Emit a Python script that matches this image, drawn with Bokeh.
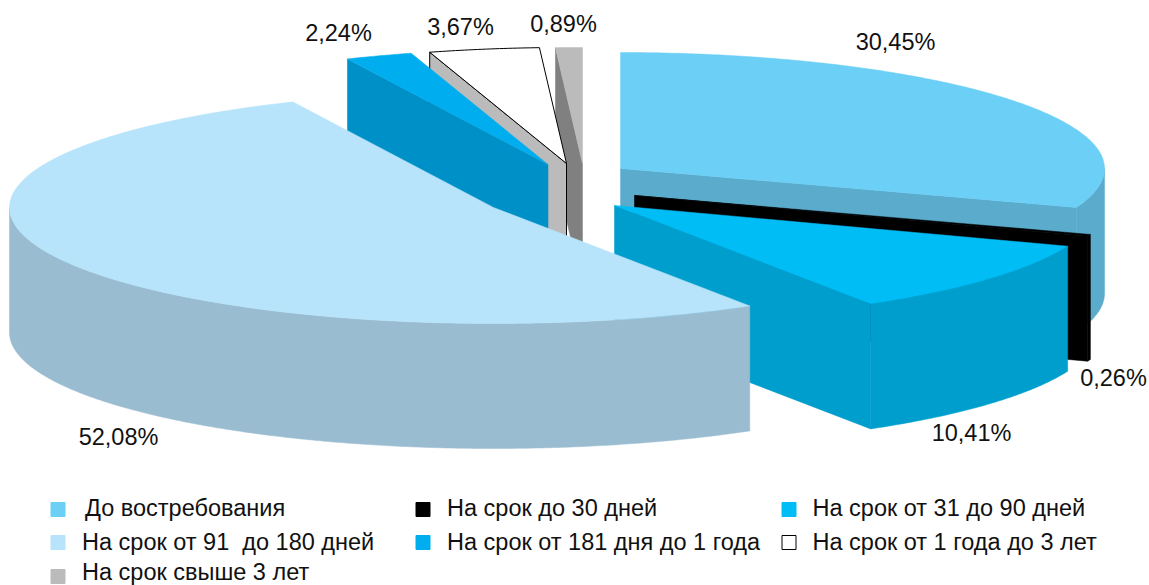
import numpy as np
from bokeh.plotting import figure
from bokeh.models import Range1d
from bokeh.core.properties import value
from bokeh.embed import file_html
from bokeh.resources import INLINE

categories = ["До востребования", "На срок до 30 дней", "На срок от 31 до 90 дней",
              "На срок от 91 \u00a0до 180 дней", "На срок от 181 дня до 1 года",
              "На срок от 1 года до 3 лет", "На срок свыше 3 лет"]
shares = [30.45, 0.26, 10.41, 52.08, 2.24, 3.67, 0.89]
share_labels = ["30,45%", "0,26%", "10,41%", "52,08%", "2,24%", "3,67%", "0,89%"]

top_colors = ["#6BCFF6", "#000000", "#00BDF5", "#B7E4FA", "#00AEEF", "#FFFFFF", "#BBBBBB"]
side_colors = ["#5AABCC", "#000000", "#009ECC", "#9ABCD0", "#0090C8", "#BBBBBB", "#808080"]

# Layout of the exploded tilted pie, in page pixels
apex = [(620, 168), (634, 195), (614, 205), (493, 207), (547.5, 164), (566, 163), (582, 163)]
RX, RY, DEPTH = 484, 116, 125
draw_order = [0, 6, 5, 4, 1, 2, 3]
label_pos = [(895, 41), (1113, 377), (971, 432), (118, 436), (338, 32), (460, 26), (563, 23)]
legend_sq = [(57.5, 509), (422.5, 509), (788.5, 509), (57.5, 542), (422.5, 542), (788.5, 542), (57.5, 576)]
legend_tx = [(84.5, 507.5), (446.5, 507.5), (812, 507.5), (81.5, 541.5), (446.5, 541.5), (812, 541.5), (81.5, 571.5)]

FONT = value("Liberation Sans")

p = figure(width=1149, height=585, output_backend="svg", toolbar_location=None,
           x_range=Range1d(0, 1149), y_range=Range1d(585, 0),
           min_border=0, outline_line_color=None)
p.axis.visible = False
p.grid.visible = False
p.background_fill_color = "#FFFFFF"
p.border_fill_color = "#FFFFFF"


def rim(c, a0, a1):
    t = np.radians(np.linspace(a0, a1, max(int(abs(a1 - a0) * 2), 2)))
    return c[0] + RX * np.sin(t), c[1] - RY * np.cos(t)


def face(xs, ys, color, line=None):
    p.patch(list(xs), list(ys), fill_color=color,
            line_color=line if line else color, line_width=1 if line else 0.5)


edges = np.concatenate([[0], np.cumsum(shares)]) / sum(shares) * 360
for i in draw_order:
    a0, a1 = edges[i], edges[i + 1]
    c = apex[i]
    side, top = side_colors[i], top_colors[i]
    outline = "#000000" if i == 5 else None
    # radial faces that look toward the viewer
    for a, show in ((a0, 180 <= a0 < 360), (a1, 0 < a1 < 180)):
        if show:
            x, y = rim(c, a, a + 1e-6)
            ex, ey = x[0], y[0]
            face([c[0], ex, ex, c[0]], [c[1], ey, ey + DEPTH, c[1] + DEPTH], side, outline)
    # outer curved face, front half only
    f0, f1 = max(a0, 90), min(a1, 270)
    if f1 > f0:
        x, y = rim(c, f0, f1)
        face(np.concatenate([x, x[::-1]]), np.concatenate([y, y[::-1] + DEPTH]), side)
    # top face
    x, y = rim(c, a0, a1)
    face(np.concatenate([[c[0]], x]), np.concatenate([[c[1]], y]), top, outline)

p.text([q[0] for q in label_pos], [q[1] for q in label_pos], text=share_labels,
       text_font=FONT, text_font_size="23.5px", text_color="#111111",
       text_align="center", text_baseline="middle")

sq_line = ["#6BCFF6", "#000000", "#00BDF5", "#B7E4FA", "#00AEEF", "#000000", "#BBBBBB"]
p.rect([q[0] for q in legend_sq], [q[1] for q in legend_sq], width=14, height=14,
       fill_color=top_colors, line_color=sq_line, line_width=1)
p.text([q[0] for q in legend_tx], [q[1] for q in legend_tx], text=categories,
       text_font=FONT, text_font_size="23.5px", text_color="#111111",
       text_align="left", text_baseline="middle")

open("out.html", "w").write(file_html(p, INLINE))
